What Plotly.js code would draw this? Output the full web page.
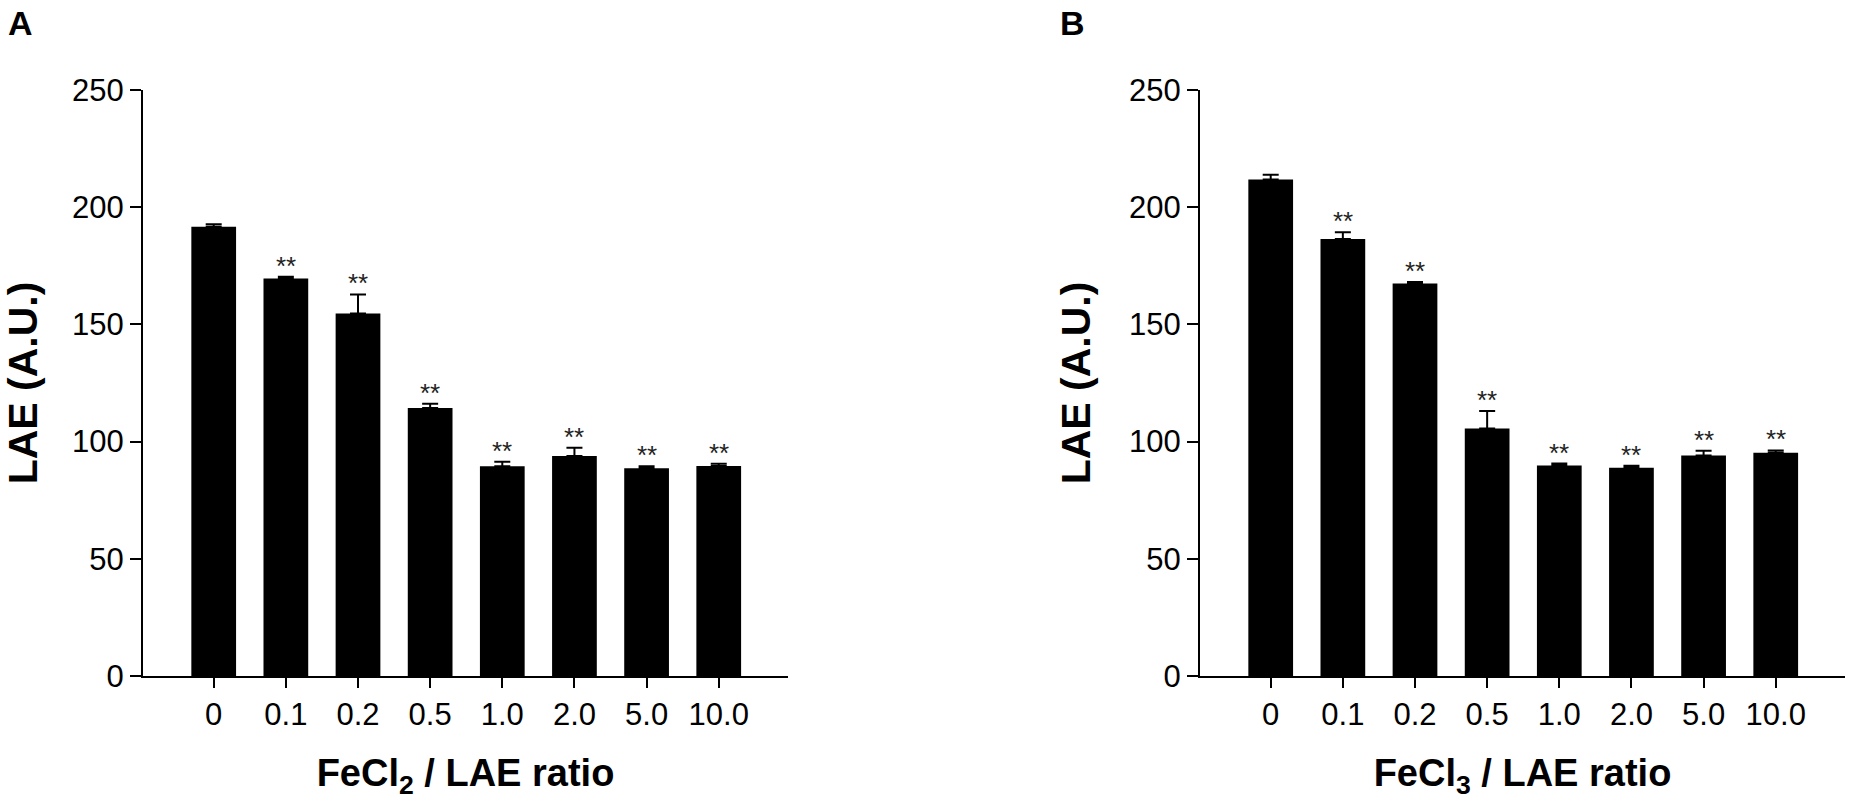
<!DOCTYPE html>
<html>
<head>
<meta charset="utf-8">
<script src="https://cdn.plot.ly/plotly-3.0.1.min.js"></script>
<style>html,body{margin:0;padding:0;background:#fff;}#chart{width:1850px;height:811px;}</style>
</head>
<body>
<div id="chart"></div>
<script>
// ---- data ----
const categories = ['0', '0.1', '0.2', '0.5', '1.0', '2.0', '5.0', '10.0'];
const valuesA = [191.7, 169.6, 154.7, 114.3, 89.5, 93.9, 88.6, 89.6];
const errorsA = [1.0, 0.7, 8.1, 1.8, 1.9, 3.5, 0.9, 0.9];
const starsA = ['', '**', '**', '**', '**', '**', '**', '**'];
const valuesB = [211.8, 186.4, 167.4, 105.6, 89.8, 88.8, 94.1, 95.2];
const errorsB = [2.0, 2.9, 0.7, 7.4, 0.8, 0.9, 2.0, 1.0];
const starsB = ['', '**', '**', '**', '**', '**', '**', '**'];
const yTicks = [0, 50, 100, 150, 200, 250];

const FONT = 'Liberation Sans, Arial, sans-serif';

function barTrace(vals, errs, xa, ya) {
  return {
    type: 'bar', x: categories, y: vals, xaxis: xa, yaxis: ya,
    width: 0.62,
    marker: {color: '#000000', line: {width: 0}},
    error_y: {type: 'data', symmetric: false, array: errs,
              arrayminus: errs.map(() => 0), color: '#000000',
              thickness: 2, width: 8},
    hoverinfo: 'x+y', showlegend: false
  };
}

// annotations on a category axis use the category's serial index
function starAnnots(vals, errs, stars, xr, yr) {
  return categories.map((c, i) => ({
    x: i, y: vals[i] + errs[i], xref: xr, yref: yr,
    text: stars[i], showarrow: false, yanchor: 'bottom', yshift: -6,
    font: {family: FONT, size: 26, color: '#222'}
  })).filter(a => a.text);
}

const xBase = {
  type: 'category', categoryarray: categories, range: [-0.98, 7.96],
  showline: true, linewidth: 2, linecolor: '#000',
  ticks: 'outside', ticklen: 10, tickwidth: 2, tickcolor: '#000',
  showgrid: false, zeroline: false, fixedrange: true,
  tickfont: {family: FONT, size: 31, color: '#000'}
};
const yBase = {
  range: [0, 250], tickvals: yTicks, ticktext: yTicks.map(String),
  showline: true, linewidth: 2, linecolor: '#000',
  ticks: 'outside', ticklen: 11, tickwidth: 2, tickcolor: '#000',
  showgrid: false, zeroline: false, fixedrange: true,
  tickfont: {family: FONT, size: 31, color: '#000'},
  domain: [0.1665, 0.889],
  title: {text: '<b>LAE (A.U.)</b>', standoff: 26, font: {family: FONT, size: 41, color: '#000'}}
};

const layout = {
  width: 1850, height: 811,
  margin: {l: 0, r: 0, t: 0, b: 0},
  paper_bgcolor: '#fff', plot_bgcolor: '#fff',
  xaxis: Object.assign({}, xBase, {domain: [143/1850, 788/1850], anchor: 'y',
    title: {text: '<b>FeCl<sub>2</sub> / LAE ratio</b>', standoff: 28,
            font: {family: FONT, size: 38, color: '#000'}}}),
  yaxis: Object.assign({}, yBase, {anchor: 'x'}),
  xaxis2: Object.assign({}, xBase, {domain: [1200/1850, 1845/1850], anchor: 'y2',
    title: {text: '<b>FeCl<sub>3</sub> / LAE ratio</b>', standoff: 28,
            font: {family: FONT, size: 38, color: '#000'}}}),
  yaxis2: Object.assign({}, yBase, {anchor: 'x2'}),
  annotations: [
    {text: '<b>A</b>', x: 6/1850, y: 1 - 2/811, xref: 'paper', yref: 'paper',
     xanchor: 'left', yanchor: 'top', showarrow: false,
     font: {family: FONT, size: 34, color: '#000'}},
    {text: '<b>B</b>', x: 1058/1850, y: 1 - 2/811, xref: 'paper', yref: 'paper',
     xanchor: 'left', yanchor: 'top', showarrow: false,
     font: {family: FONT, size: 34, color: '#000'}}
  ].concat(starAnnots(valuesA, errorsA, starsA, 'x', 'y'))
   .concat(starAnnots(valuesB, errorsB, starsB, 'x2', 'y2'))
};

Plotly.newPlot('chart', [
  barTrace(valuesA, errorsA, 'x', 'y'),
  barTrace(valuesB, errorsB, 'x2', 'y2')
], layout, {displayModeBar: false, staticPlot: true});
</script>
</body>
</html>
